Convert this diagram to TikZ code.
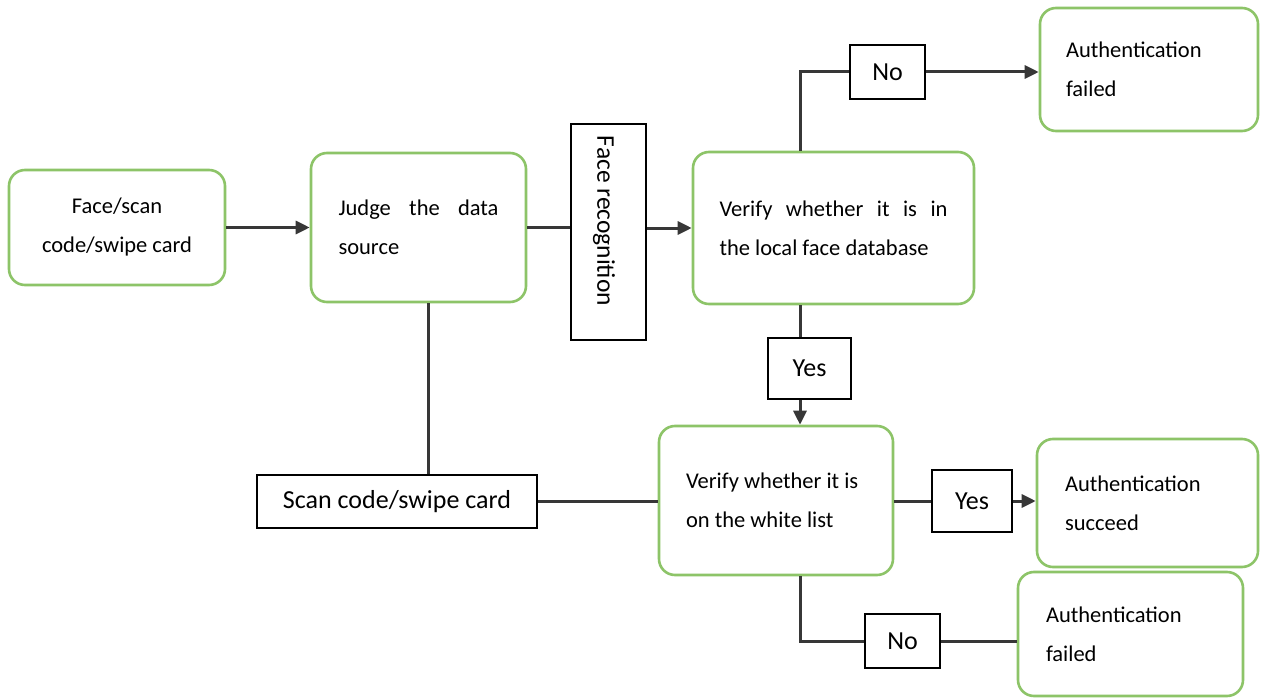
\documentclass[tikz,border=0pt]{standalone}
\usepackage{fontspec}
\setmainfont{Carlito}
\usetikzlibrary{arrows.meta}
\definecolor{gr}{RGB}{141,196,104}
\definecolor{ln}{RGB}{55,55,55}
\begin{document}
\begin{tikzpicture}[x=1pt,y=-1pt,
  gbox/.style={draw=gr,line width=2.6pt,rounded corners=16pt,fill=white,inner sep=0pt,font=\fontsize{22.5}{39}\selectfont},
  lbox/.style={draw=black,line width=1.8pt,inner sep=0pt,fill=white,font=\fontsize{26}{30}\selectfont},
  conn/.style={draw=ln,line width=3pt},
  arr/.style={conn,-{Triangle[length=14pt,width=13pt]}}]
\useasboundingbox[fill=white] (0,0) rectangle (1261,698);
\coordinate (vx) at (800,0);
\coordinate (jx) at (428,0);
% green boxes
\node[gbox,minimum width=216pt,minimum height=115pt] (start) at (117,227.5)
  {\parbox{190pt}{\centering Face/scan\\code/swipe card}};
\node[gbox,minimum width=215pt,minimum height=149pt] (judge) at (418.5,227.5)
  {\parbox{160pt}{\makebox[160pt][s]{Judge the data}\\source}};
\node[gbox,minimum width=281pt,minimum height=152pt] (local) at (833.5,228)
  {\parbox{228pt}{\makebox[228pt][s]{Verify whether it is in}\\the local face database}};
\node[gbox,minimum width=218pt,minimum height=123pt] (afail1) at (1149,69.5)
  {\parbox{166pt}{\raggedright Authentication\\failed}};
\node[gbox,minimum width=234pt,minimum height=149pt] (white) at (776,500.5)
  {\parbox{180pt}{\raggedright Verify whether it is\\on the white list}};
\node[gbox,minimum width=221pt,minimum height=128pt] (asucc) at (1147.5,503)
  {\parbox{165pt}{\raggedright Authentication\\succeed}};
\node[gbox,minimum width=225pt,minimum height=124pt] (afail2) at (1130.5,634)
  {\parbox{169pt}{\raggedright Authentication\\failed}};
% label boxes
\node[lbox,minimum width=75pt,minimum height=216pt] (facerec) at (608.5,232) {};
\node[rotate=-90,inner sep=0pt,font=\fontsize{25.5}{28}\selectfont] (frtext) at (604,221) {Face recognition};
\node[lbox,minimum width=75pt,minimum height=54pt] (no1) at (887.5,72) {No};
\node[lbox,minimum width=83pt,minimum height=61pt] (yes1) at (809.5,368.5) {Yes};
\node[lbox,minimum width=80pt,minimum height=62pt] (yes2) at (972,501) {Yes};
\node[lbox,minimum width=75pt,minimum height=54pt] (no2) at (902.5,641) {No};
\node[lbox,minimum width=280pt,minimum height=53pt] (scan) at (397,501.5) {Scan code/swipe card};
% connectors
\draw[arr] (start.east) -- (judge.west);
\draw[conn] (judge.east) -- (judge.east -| facerec.west);
\draw[arr] (facerec.east |- local.west) -- (local.west);
\draw[conn] (local.north -| vx) |- (no1.west);
\draw[arr] (no1.east) -- (no1.east -| afail1.west);
\draw[conn] (local.south -| vx) -- (yes1.north -| vx);
\draw[arr] (yes1.south -| vx) -- (white.north -| vx);
\draw[conn] (judge.south -| jx) -- (scan.north -| jx);
\draw[conn] (scan.east) -- (scan.east -| white.west);
\draw[conn] (white.east |- yes2.west) -- (yes2.west);
\draw[arr] (yes2.east) -- (yes2.east -| asucc.west);
\draw[conn] (white.south -| vx) |- (no2.west);
\draw[conn] (no2.east) -- (no2.east -| afail2.west);
\end{tikzpicture}
\end{document}
